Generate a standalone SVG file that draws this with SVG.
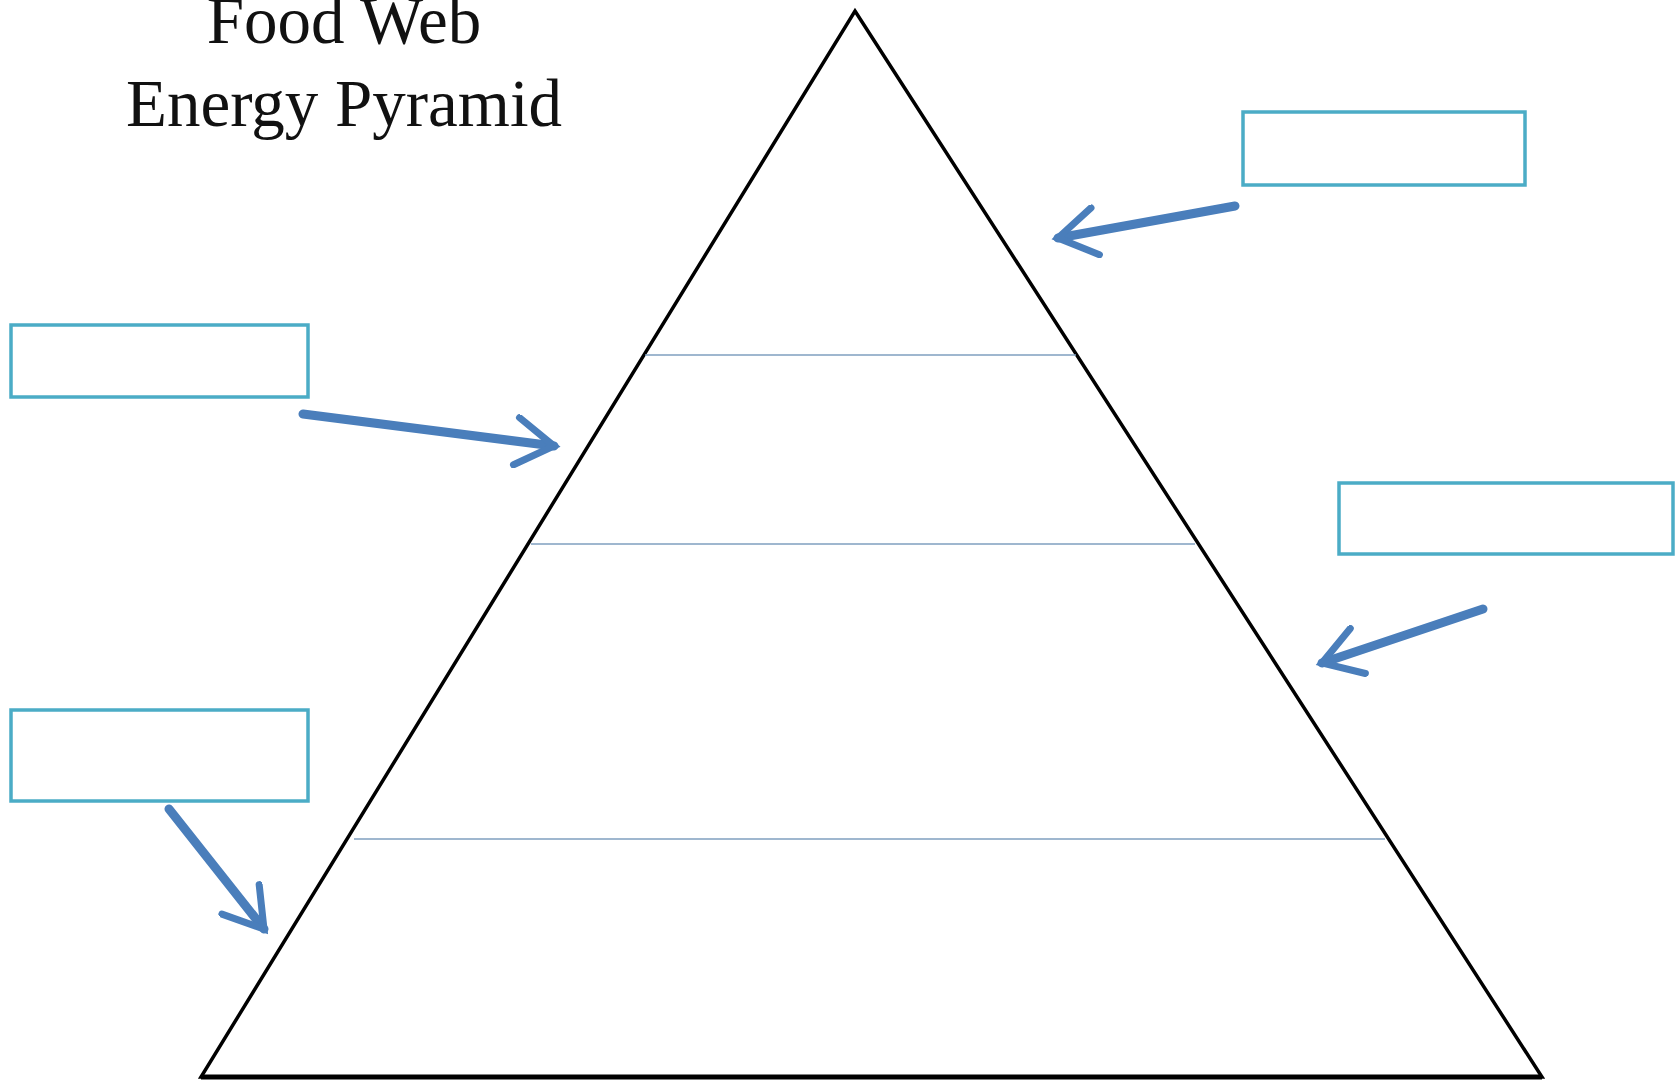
<svg xmlns="http://www.w3.org/2000/svg" width="1676" height="1083" viewBox="0 0 1676 1083">
<style>
.title{font-family:"Liberation Serif","Times New Roman",serif;font-size:67px;fill:#111;text-anchor:middle}
.box{fill:#fff;stroke:#4bacc6;stroke-width:3.5}
.level{stroke:#7f9fbf;stroke-width:1.5}
.arrow{fill:none;stroke:#4a7ebb;stroke-width:9;stroke-linecap:round;marker-end:url(#chev)}
</style>
<defs>
<marker id="chev" viewBox="0 0 10 10" refX="8.5" refY="5" markerWidth="6" markerHeight="6" orient="auto" markerUnits="strokeWidth">
<polyline points="1.5,0.6 8.5,5 1.5,9.4" fill="none" stroke="#4a7ebb" stroke-width="1.3" stroke-linecap="round" stroke-linejoin="miter"/>
</marker>
</defs>
<rect width="1676" height="1083" fill="#fff"/>
<g id="title">
<text class="title" x="344" y="43">Food Web</text>
<text class="title" x="344" y="126">Energy Pyramid</text>
</g>
<g id="pyramid">
<polygon points="855,11 1542,1077 201,1077" fill="#fff" stroke="#000" stroke-width="3.5" stroke-linejoin="miter"/>
<line x1="201" y1="1077" x2="1542" y2="1077" stroke="#000" stroke-width="5"/>
<line class="level" x1="645" y1="355" x2="1076" y2="355"/>
<line class="level" x1="531" y1="544" x2="1195" y2="544"/>
<line class="level" x1="354" y1="839" x2="1385" y2="839"/>
</g>
<g id="box-top-right"><rect class="box" x="1243" y="112" width="282" height="73"/></g>
<g id="box-left-1"><rect class="box" x="11" y="325" width="297" height="72"/></g>
<g id="box-right-2"><rect class="box" x="1339" y="483" width="334" height="71"/></g>
<g id="box-left-2"><rect class="box" x="11" y="710" width="297" height="91"/></g>
<g id="connectors">
<line class="arrow" x1="1235" y1="206" x2="1058" y2="238"/>
<line class="arrow" x1="303" y1="414" x2="554" y2="446"/>
<line class="arrow" x1="1483" y1="609" x2="1322" y2="663"/>
<line class="arrow" x1="169" y1="809" x2="264" y2="929"/>
</g>
</svg>
